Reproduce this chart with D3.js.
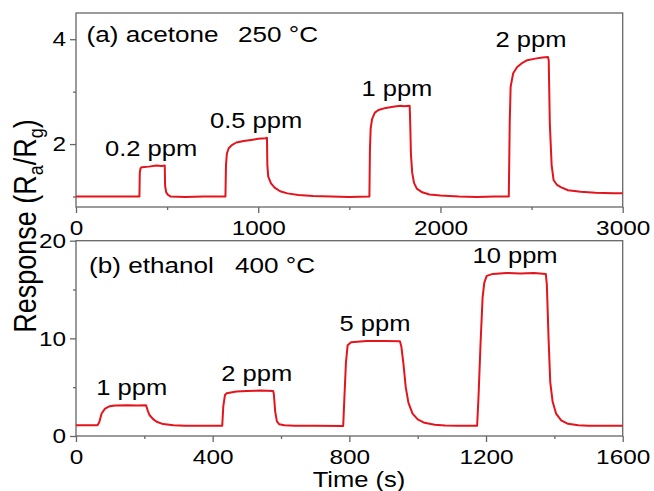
<!DOCTYPE html>
<html>
<head>
<meta charset="utf-8">
<script src="https://cdn.jsdelivr.net/npm/d3@7"></script>
<style>
  body { margin: 0; background: #fff; }
  svg text { font-family: "Liberation Sans", Arial, sans-serif; fill: #000; }
  .frame { fill: none; stroke: #666; stroke-width: 1.3; }
  .axis path { display: none; }
  .axis line { stroke: #666; stroke-width: 1.3; }
  .trace { fill: none; stroke: #e3141c; stroke-width: 2; stroke-linejoin: round; }
</style>
</head>
<body>
<script>
// (a) acetone at 250 C: time (s) and response Ra/Rg
var acetoneTime = [0, 200, 348, 350, 354, 362, 400, 440, 470, 487, 489, 495, 505, 520, 600, 700, 820,
  823, 828, 838, 855, 880, 920, 960, 1000, 1040, 1048, 1050, 1055, 1070, 1090, 1120, 1160, 1220, 1300,
  1400, 1500, 1610, 1613, 1617, 1625, 1640, 1660, 1700, 1740, 1780, 1800, 1831, 1834, 1838, 1845, 1855,
  1870, 1900, 1940, 2000, 2100, 2200, 2300, 2375, 2380, 2385, 2399, 2421, 2450, 2476, 2520, 2560, 2590,
  2594, 2600, 2610, 2621, 2640, 2660, 2700, 2769, 2850, 2950, 3000];
var acetoneResp = [1.0, 1.0, 1.0, 1.45, 1.54, 1.56, 1.57, 1.59, 1.58, 1.59, 1.2, 1.08, 1.03, 1.0, 0.99, 1.0, 1.0,
  1.6, 1.82, 1.92, 1.98, 2.03, 2.06, 2.08, 2.1, 2.11, 2.12, 1.6, 1.38, 1.25, 1.17, 1.1, 1.06, 1.03, 1.01,
  1.0, 0.99, 1.0, 1.9, 2.3, 2.48, 2.6, 2.65, 2.69, 2.71, 2.73, 2.72, 2.73, 2.4, 1.8, 1.45, 1.26,
  1.15, 1.08, 1.04, 1.02, 1.0, 0.99, 1.0, 1.0, 2.4, 3.09, 3.35, 3.47, 3.55, 3.6, 3.63, 3.65, 3.66,
  3.6, 2.4, 1.6, 1.31, 1.22, 1.18, 1.12, 1.09, 1.07, 1.06, 1.06];
var acetoneLabels = ["0.2 ppm", "0.5 ppm", "1 ppm", "2 ppm"];
var acetoneLabelTime = [412, 988, 1761, 2497];

// (b) ethanol at 400 C
var ethanolTime = [0, 63, 68, 75, 85, 99, 115, 150, 180, 205, 210, 215, 225, 236, 255, 285, 320, 360, 428,
  431, 436, 441, 470, 500, 540, 577, 579, 583, 588, 595, 610, 640, 700, 782, 785, 790, 795, 805, 850,
  900, 948, 952, 958, 965, 973, 985, 1000, 1020, 1050, 1080, 1120, 1174, 1178, 1184, 1190, 1195, 1202,
  1220, 1260, 1300, 1340, 1375, 1378, 1383, 1388, 1395, 1405, 1420, 1440, 1470, 1500, 1600];
var ethanolResp = [1.1, 1.1, 1.4, 2.3, 2.8, 3.05, 3.12, 3.15, 3.13, 3.15, 2.6, 2.15, 1.75, 1.46, 1.22, 1.1, 1.06, 1.05, 1.05,
  3.0, 4.2, 4.37, 4.55, 4.6, 4.65, 4.62, 4.3, 2.5, 1.5, 1.2, 1.1, 1.06, 1.04, 1.03, 3.5, 7.5, 9.3, 9.6, 9.72,
  9.73, 9.7, 9.2, 7.5, 5.0, 3.4, 2.3, 1.7, 1.35, 1.15, 1.08, 1.05, 1.05, 4.0, 9.5, 14.2, 15.7, 16.4,
  16.6, 16.7, 16.65, 16.7, 16.6, 15.5, 10, 5.5, 3.5, 2.3, 1.6, 1.25, 1.1, 1.05, 1.05];
var ethanolLabels = ["1 ppm", "2 ppm", "5 ppm", "10 ppm"];
var ethanolLabelTime = [163, 529, 875, 1285];

var topXTicks = [0, 1000, 2000, 3000], topXMinor = [500, 1500, 2500];
var topYTicks = [2, 4], topYMinor = [1, 3];
var botXTicks = [0, 400, 800, 1200, 1600], botXMinor = [200, 600, 1000, 1400];
var botYTicks = [0, 10, 20], botYMinor = [5, 15];

var W = 654, H = 491;
var SX = 1.16; // text is a little wide in the original figure
var left = 76, right = 622.7;

var svg = d3.select("body").append("svg")
    .attr("width", W)
    .attr("height", H);

function stretch(sel) {
  sel.attr("transform", "scale(" + SX + ",1)");
}

/**
 * Draws one panel: frame, axes, red trace, concentration labels, title.
 */
function drawPanel(opt) {
  var x = d3.scaleLinear().domain(opt.xDomain).range([left, right]);
  var y = d3.scaleLinear().domain(opt.yDomain).range([opt.bottom, opt.top]);
  var fmt = d3.format("d");

  svg.append("rect")
    .attr("class", "frame")
    .attr("x", left).attr("y", opt.top)
    .attr("width", right - left).attr("height", opt.bottom - opt.top);

  // major ticks with labels
  var gx = svg.append("g").attr("class", "axis")
    .attr("transform", "translate(0," + opt.bottom + ")")
    .call(d3.axisBottom(x).tickValues(opt.xTicks).tickFormat(fmt).tickSize(6).tickPadding(7).tickSizeOuter(0));
  gx.selectAll("text").style("font-size", "21px").call(stretch);

  var gy = svg.append("g").attr("class", "axis")
    .attr("transform", "translate(" + left + ",0)")
    .call(d3.axisLeft(y).tickValues(opt.yTicks).tickFormat(fmt).tickSize(6).tickPadding(2.6).tickSizeOuter(0));
  gy.selectAll("text").style("font-size", "21px").call(stretch);

  // minor ticks
  svg.append("g").attr("class", "axis")
    .attr("transform", "translate(0," + opt.bottom + ")")
    .call(d3.axisBottom(x).tickValues(opt.xMinor).tickSize(3).tickFormat("").tickSizeOuter(0));
  svg.append("g").attr("class", "axis")
    .attr("transform", "translate(" + left + ",0)")
    .call(d3.axisLeft(y).tickValues(opt.yMinor).tickSize(3).tickFormat("").tickSizeOuter(0));

  var pts = opt.time.map(function(t, i) { return [t, opt.resp[i]]; });
  var line = d3.line()
    .x(function(d) { return x(d[0]); })
    .y(function(d) { return y(d[1]); });

  svg.append("path")
    .datum(pts)
    .attr("class", "trace")
    .attr("d", line);

  // concentration labels sit just above the peak of each pulse
  opt.labels.forEach(function(txt, i) {
    var t0 = opt.labelTime[i];
    var peak = d3.max(pts.filter(function(d) { return Math.abs(d[0] - t0) < 150; }), function(d) { return d[1]; });
    svg.append("g")
      .attr("transform", "translate(" + x(t0) + "," + (y(peak) - 10) + ")")
      .append("text")
      .attr("text-anchor", "middle")
      .style("font-size", "22px")
      .text(txt)
      .call(stretch);
  });

  // panel title
  svg.append("g")
    .attr("transform", "translate(" + opt.titleX + "," + opt.titleY + ")")
    .append("text").style("font-size", "22.5px").text(opt.title).call(stretch);
  svg.append("g")
    .attr("transform", "translate(" + opt.tempX + "," + opt.titleY + ")")
    .append("text").style("font-size", "22.5px").text(opt.temp).call(stretch);
}

drawPanel({
  xDomain: [0, 3000], yDomain: [0.8, 4.5], top: 13, bottom: 207,
  xTicks: topXTicks, xMinor: topXMinor, yTicks: topYTicks, yMinor: topYMinor,
  time: acetoneTime, resp: acetoneResp,
  labels: acetoneLabels, labelTime: acetoneLabelTime,
  title: "(a) acetone", temp: "250 °C", titleX: 86.5, tempX: 238, titleY: 41.5
});

drawPanel({
  xDomain: [0, 1600], yDomain: [0, 20], top: 240.7, bottom: 436,
  xTicks: botXTicks, xMinor: botXMinor, yTicks: botYTicks, yMinor: botYMinor,
  time: ethanolTime, resp: ethanolResp,
  labels: ethanolLabels, labelTime: ethanolLabelTime,
  title: "(b) ethanol", temp: "400 °C", titleX: 89, tempX: 235, titleY: 273
});

// axis titles
svg.append("g")
  .attr("transform", "translate(359,487)")
  .append("text")
  .attr("text-anchor", "middle")
  .style("font-size", "22px")
  .text("Time (s)")
  .call(stretch);

var yt = svg.append("text")
  .attr("transform", "translate(36,226) rotate(-90) scale(1," + SX + ")")
  .attr("text-anchor", "middle")
  .style("font-size", "27px");
yt.append("tspan").text("Response (R");
yt.append("tspan").attr("dy", 6).style("font-size", "18px").text("a");
yt.append("tspan").attr("dy", -6).text("/R");
yt.append("tspan").attr("dy", 6).style("font-size", "18px").text("g");
yt.append("tspan").attr("dy", -6).text(")");
</script>
</body>
</html>
